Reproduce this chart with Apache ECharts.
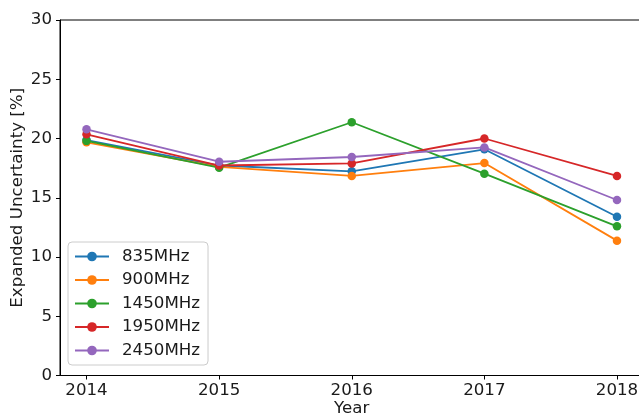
<!DOCTYPE html>
<html>
<head>
<meta charset="utf-8">
<script src="https://cdn.jsdelivr.net/npm/echarts@6/dist/echarts.min.js"></script>
<style>html,body{margin:0;padding:0;background:#fff;}#c{width:639px;height:415px;}</style>
</head>
<body>
<div id="c"></div>
<script>
const years = [2014, 2015, 2016, 2017, 2018];
const seriesNames = ['835MHz', '900MHz', '1450MHz', '1950MHz', '2450MHz'];
const v835 = [19.87, 17.72, 17.23, 19.09, 13.4];
const v900 = [19.68, 17.6, 16.84, 17.93, 11.38];
const v1450 = [19.8, 17.54, 21.37, 17.03, 12.59];
const v1950 = [20.35, 17.72, 17.9, 20.0, 16.84];
const v2450 = [20.78, 18.04, 18.44, 19.25, 14.81];
const yTicks = [0, 5, 10, 15, 20, 25, 30];
const colors = ['#1f77b4', '#ff7f0e', '#2ca02c', '#d62728', '#9467bd'];
const allValues = [v835, v900, v1450, v1950, v2450];

const font = 'DejaVu Sans';
const fs = 16.67;
const chart = echarts.init(document.getElementById('c'), null, {renderer: 'canvas'});
chart.setOption({
  animation: false,
  backgroundColor: '#fff',
  grid: {left: 60, top: 20, bottom: 39.5, right: -4.5, show: true, borderColor: '#000', borderWidth: 1, backgroundColor: 'transparent', containLabel: false, outerBoundsMode: 'none'},
  xAxis: {
    type: 'value', min: 2013.8, max: 2018.2,
    name: 'Year', nameLocation: 'middle', nameGap: 25, nameMoveOverlap: false,
    nameTextStyle: {fontFamily: font, fontSize: fs, color: '#1a1a1a'},
    axisLine: {show: true, lineStyle: {color: '#000', width: 1}},
    axisTick: {show: true, inside: false, length: 4, lineStyle: {color: '#000'}, customValues: years},
    axisLabel: {fontFamily: font, fontSize: fs, color: '#1a1a1a', margin: 7, customValues: years, formatter: v => String(v)},
    splitLine: {show: false}
  },
  yAxis: {
    type: 'value', min: 0, max: 30, interval: 5,
    name: 'Expanded Uncertainty [%]', nameLocation: 'middle', nameGap: 34, nameMoveOverlap: false,
    nameTextStyle: {fontFamily: font, fontSize: fs, color: '#1a1a1a'},
    axisLine: {show: true, lineStyle: {color: '#000', width: 1}},
    axisTick: {show: true, inside: false, length: 4, lineStyle: {color: '#000'}},
    axisLabel: {fontFamily: font, fontSize: fs, color: '#1a1a1a', margin: 8, customValues: yTicks},
    splitLine: {show: false}
  },
  legend: {
    orient: 'vertical', left: 68, top: 242,
    itemWidth: 34, itemHeight: 12, itemGap: 6.5,
    padding: [6, 8, 6, 6],
    backgroundColor: '#fff', borderColor: '#ccc', borderWidth: 1, borderRadius: 4,
    textStyle: {fontFamily: font, fontSize: fs, color: '#1a1a1a', padding: [0, 0, 0, 8]},
    data: seriesNames
  },
  series: seriesNames.map((n, i) => ({
    name: n, type: 'line',
    data: years.map((y, j) => [y, allValues[i][j]]),
    color: colors[i],
    symbol: 'circle', symbolSize: 8.5,
    lineStyle: {width: 1.8, color: colors[i]},
    itemStyle: {color: colors[i]},
    z: 2 + i
  }))
});
</script>
</body>
</html>
